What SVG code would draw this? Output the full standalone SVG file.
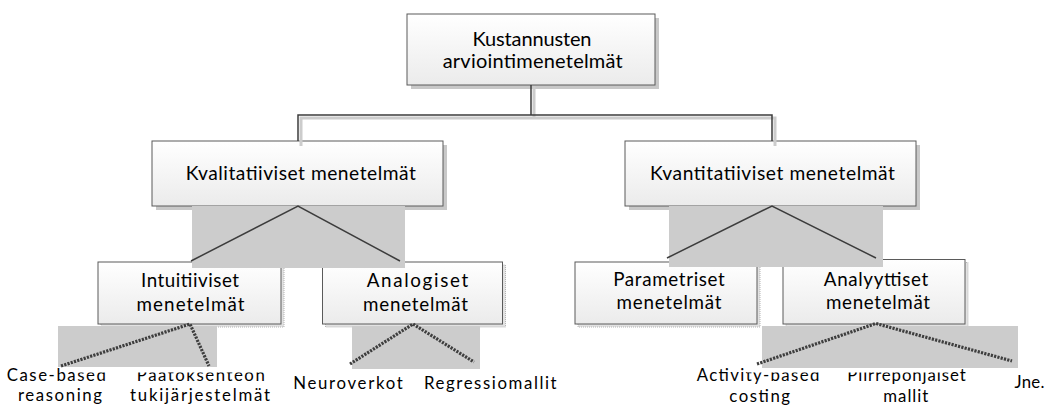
<svg xmlns="http://www.w3.org/2000/svg" width="1050" height="405" viewBox="0 0 1050 405">
<defs>
<linearGradient id="g" x1="0" y1="0" x2="0" y2="1"><stop offset="0" stop-color="#ffffff"/><stop offset="1" stop-color="#ebebeb"/></linearGradient>
<clipPath id="c1"><rect x="0" y="0" width="76" height="405"/><rect x="0" y="372.5" width="1050" height="33"/></clipPath>
<clipPath id="c2"><rect x="0" y="372.5" width="1050" height="33"/></clipPath>
<clipPath id="c3"><rect x="0" y="0" width="747" height="405"/><rect x="0" y="372.5" width="1050" height="33"/></clipPath>
<clipPath id="c4"><rect x="948" y="0" width="102" height="405"/><rect x="0" y="372.5" width="1050" height="33"/></clipPath>
</defs>
<style>
.box{fill:url(#g);stroke:#5a5a5a;stroke-width:1}
.sh{fill:#c8c8c8}
.sh3{fill:#e2e2e2;stroke:#b4b4b4;stroke-width:1;stroke-dasharray:1 1}
.hl{fill:#cccccc}
.ln{fill:none;stroke:#3c3c3c;stroke-width:1.5}
.lns{fill:none;stroke:#cccccc;stroke-width:3}
.dl{fill:none;stroke:#3e3e3e;stroke-width:3.2;stroke-dasharray:2.2 1.2}
text{font-family:Lato,'Liberation Sans',sans-serif;fill:#000;text-anchor:middle}
.t1{font-size:20px}
.t2{font-size:19.2px}
.t3{font-size:18.8px}
.t4{font-size:16.8px}
</style>
<rect width="1050" height="405" fill="#ffffff"/>

<g id="n-root">
<rect class="sh" x="411" y="18" width="248" height="71"/>
<rect class="box" x="407" y="14" width="248" height="71"/>
<text class="t1" x="532" y="45.7" textLength="119" lengthAdjust="spacing">Kustannusten</text>
<text class="t1" x="532.7" y="67.7" textLength="180" lengthAdjust="spacing">arviointimenetelmät</text>
</g>

<g id="n-kval">
<rect class="sh" x="156" y="145" width="291" height="65"/>
<rect class="box" x="152" y="141" width="291" height="65"/>
<text class="t2" x="300.8" y="180" textLength="230" lengthAdjust="spacing">Kvalitatiiviset menetelmät</text>
</g>

<g id="n-kvan">
<rect class="sh" x="629" y="145" width="291" height="65"/>
<rect class="box" x="625" y="141" width="291" height="65"/>
<text class="t2" x="772.5" y="180" textLength="245" lengthAdjust="spacing">Kvantitatiiviset menetelmät</text>
</g>

<g id="n-intu">
<rect class="sh3" x="101" y="265" width="183" height="62"/>
<rect class="box" x="98" y="262" width="183" height="62"/>
<text class="t3" x="190" y="287.3" textLength="98" lengthAdjust="spacing">Intuitiiviset</text>
<text class="t3" x="190.5" y="311" textLength="108" lengthAdjust="spacing">menetelmät</text>
</g>

<g id="n-anal">
<rect class="sh3" x="325.5" y="265" width="180" height="62"/>
<rect class="box" x="322.5" y="262" width="180" height="62"/>
<text class="t3" x="417.5" y="287" textLength="101.6" lengthAdjust="spacing">Analogiset</text>
<text class="t3" x="415.5" y="311" textLength="105" lengthAdjust="spacing">menetelmät</text>
</g>

<g id="n-param">
<rect class="sh3" x="578" y="265" width="182" height="62"/>
<rect class="box" x="575" y="262" width="182" height="62"/>
<text class="t3" x="669" y="285.7" textLength="111.7" lengthAdjust="spacing">Parametriset</text>
<text class="t3" x="669" y="309.3" textLength="105" lengthAdjust="spacing">menetelmät</text>
</g>

<g id="n-analyy">
<rect class="sh3" x="786" y="262.5" width="182" height="64.5"/>
<rect class="box" x="783" y="259.5" width="182" height="64.5"/>
<text class="t3" x="876" y="285.7" textLength="104.3" lengthAdjust="spacing">Analyyttiset</text>
<text class="t3" x="878" y="309" textLength="104" lengthAdjust="spacing">menetelmät</text>
</g>

<g id="n-case">
<text class="t4" x="56.3" y="381" textLength="99.3" lengthAdjust="spacing" clip-path="url(#c1)">Case-based</text>
<text class="t4" x="60" y="401" textLength="84" lengthAdjust="spacing">reasoning</text>
</g>

<g id="n-paat">
<text class="t4" x="200.8" y="381" textLength="128" lengthAdjust="spacing" clip-path="url(#c2)">Päätöksenteon</text>
<text class="t4" x="200" y="401" textLength="140" lengthAdjust="spacing">tukijärjestelmät</text>
</g>

<g id="n-neuro">
<text class="t4" x="348" y="389" textLength="109.4" lengthAdjust="spacing">Neuroverkot</text>
</g>

<g id="n-regr">
<text class="t4" x="490.3" y="389" textLength="132.7" lengthAdjust="spacing">Regressiomallit</text>
</g>

<g id="n-abc">
<text class="t4" x="758" y="381" textLength="122.6" lengthAdjust="spacing" clip-path="url(#c3)">Activity-based</text>
<text class="t4" x="759.7" y="402" textLength="60.7" lengthAdjust="spacing">costing</text>
</g>

<g id="n-piirre">
<text class="t4" x="906.5" y="381" textLength="118.4" lengthAdjust="spacing" clip-path="url(#c4)">Piirrepohjaiset</text>
<text class="t4" x="905.8" y="402" textLength="45" lengthAdjust="spacing">mallit</text>
</g>

<g id="n-jne">
<text class="t4" x="1029.5" y="388" textLength="30" lengthAdjust="spacing">Jne.</text>
</g>

<g id="connectors">
<path class="lns" d="M534,86 V118 M301,146 V118 H775 V146"/>
<path class="ln" d="M531,85 V115 M298,141 V115 H772 V141"/>
<rect class="hl" x="192" y="206" width="213" height="62"/>
<rect class="hl" x="669" y="206" width="214" height="61"/>
<path class="ln" d="M191,261 L298,206 L400,261"/>
<path class="ln" d="M667,258 L772,206 L876,258"/>
<rect class="hl" x="58" y="326" width="159" height="41"/>
<rect class="hl" x="352" y="326" width="128" height="43"/>
<rect class="hl" x="762" y="326" width="256" height="42"/>
<path class="dl" d="M61,366 L190,324 L209,366"/>
<path class="dl" d="M350,364 L413,324 L474,362"/>
<path class="dl" d="M757,364 L876,323.5 L1012,361"/>
</g>
</svg>
